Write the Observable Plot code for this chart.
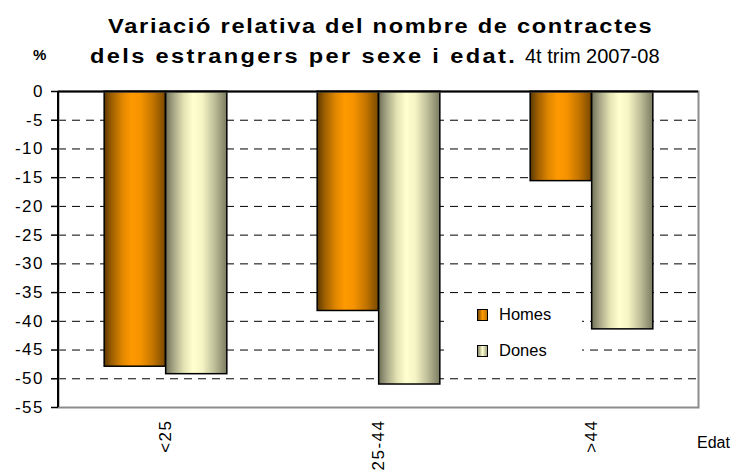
<!DOCTYPE html>
<html>
<head>
<meta charset="utf-8">
<script src="https://cdn.jsdelivr.net/npm/d3@7"></script>
<script src="https://cdn.jsdelivr.net/npm/@observablehq/plot@0.6"></script>
<style>
  html, body { margin: 0; padding: 0; background: #fff; }
  #wrap { position: relative; width: 741px; height: 475px; font-family: "Liberation Sans", Arial, sans-serif; }
  #wrap svg { position: absolute; left: 0; top: 0; }
  .t { position: absolute; font-size: 20px; font-weight: bold; color: #000; white-space: nowrap; transform-origin: 0 50%; }
  .t.b { transform: scaleX(1.18); letter-spacing: 1.45px; }
  .t.b2 { transform: scaleX(1.18); letter-spacing: 2.0px; }
  .t.n { font-weight: normal; }
  .pct { position: absolute; left: 33px; top: 46px; font-size: 15px; font-weight: bold; }
  .edat { position: absolute; left: 697px; top: 434px; font-size: 16px; }
  .legend { position: absolute; left: 448px; top: 296px; width: 105px; padding-left: 29px; background: #fff; font-size: 16.5px; line-height: 36px; }
  .legend .sw { display: inline-block; width: 9px; height: 10px; border: 1px solid #000; margin-right: 11px; vertical-align: -1px; }
</style>
</head>
<body>
<div id="wrap"></div>
<script>
const categories = ["<25", "25-44", ">44"];
const homes = [-47.9, -38.2, -15.6];
const dones = [-49.2, -51.0, -41.4];
const series = ["Homes", "Dones"];
const yTicks = [0, -5, -10, -15, -20, -25, -30, -35, -40, -45, -50, -55];

const data = categories.flatMap((c, i) => [
  {edat: c, sexe: "Homes", value: homes[i]},
  {edat: c, sexe: "Dones", value: dones[i]}
]);

const W = 741, H = 475, mL = 58, mR = 43, mT = 91, mB = 68;
const band = (W - mL - mR) / categories.length;
const half = band / 2;
const barW = 61.5;

const plot = Plot.plot({
  width: W, height: H,
  marginLeft: mL, marginRight: mR, marginTop: mT, marginBottom: mB,
  style: {fontFamily: "Liberation Sans, Arial, sans-serif", background: "transparent"},
  x: {domain: categories, padding: 0},
  y: {domain: [-55, 0]},
  marks: [
    Plot.gridY(yTicks.filter(d => d !== 0 && d !== -55), {stroke: "#000", strokeOpacity: 1, strokeDasharray: "8,6", strokeWidth: 1}),
    Plot.barY(data.filter(d => d.sexe === "Homes"), {x: "edat", y: "value", fill: "url(#gHomes)", stroke: "#000", strokeWidth: 1.5, insetLeft: half - barW, insetRight: half}),
    Plot.barY(data.filter(d => d.sexe === "Dones"), {x: "edat", y: "value", fill: "url(#gDones)", stroke: "#000", strokeWidth: 1.5, insetLeft: half, insetRight: half - barW}),
    Plot.frame({stroke: "#8c8c8c", strokeWidth: 2}),
    Plot.ruleY([0], {stroke: "#000", strokeWidth: 2}),
    Plot.axisY({ticks: yTicks, tickFormat: d => String(d), tickSize: 7, tickPadding: 7.5, fontSize: 17, stroke: "#000", strokeWidth: 1.5, label: null}),
    Plot.axisX({tickRotate: -90, tickSize: 0, tickPadding: 12, fontSize: 17, label: null})
  ]
});

const svg = d3.select(plot);
svg.selectAll("g[aria-label='y-axis tick label'], g[aria-label='x-axis tick label']").attr("letter-spacing", "1.5px");

const defs = svg.insert("defs", ":first-child");
function grad(id, stops) {
  const g = defs.append("linearGradient").attr("id", id).attr("x1", "0").attr("x2", "1").attr("y1", "0").attr("y2", "0");
  stops.forEach(([o, c]) => g.append("stop").attr("offset", o).attr("stop-color", c));
}
grad("gHomes", [[0, "#5a3800"], [0.12, "#9c5e00"], [0.3, "#e08700"], [0.45, "#ff9900"], [0.6, "#f59300"], [0.8, "#c27400"], [1, "#7a4900"]]);
grad("gDones", [[0, "#6f6f57"], [0.12, "#a3a383"], [0.3, "#e3e3b4"], [0.45, "#ffffd0"], [0.6, "#f4f4c4"], [0.8, "#bdbd98"], [1, "#7b7b61"]]);

const ys = plot.scale("y");
svg.append("line")
  .attr("x1", mL).attr("x2", mL)
  .attr("y1", ys.apply(0)).attr("y2", ys.apply(-55))
  .attr("stroke", "#000").attr("stroke-width", 2);

const wrap = document.getElementById("wrap");
wrap.appendChild(plot);
wrap.insertAdjacentHTML("beforeend", `
  <div class="t b" style="top:15px;left:108px">Variació relativa del nombre de contractes</div>
  <div class="t b2" style="top:45px;left:90px">dels estrangers per sexe i edat.</div>
  <div class="t n" style="top:45px;left:525px">4t trim 2007-08</div>
  <div class="pct">%</div>
  <div class="edat">Edat</div>
  <div class="legend">
    <div><span class="sw" style="background:linear-gradient(to right,#7a4900,#ff9900,#c27400)"></span>${series[0]}</div>
    <div><span class="sw" style="background:linear-gradient(to right,#8a8a6c,#ffffd0,#a3a383)"></span>${series[1]}</div>
  </div>
`);
</script>
</body>
</html>
